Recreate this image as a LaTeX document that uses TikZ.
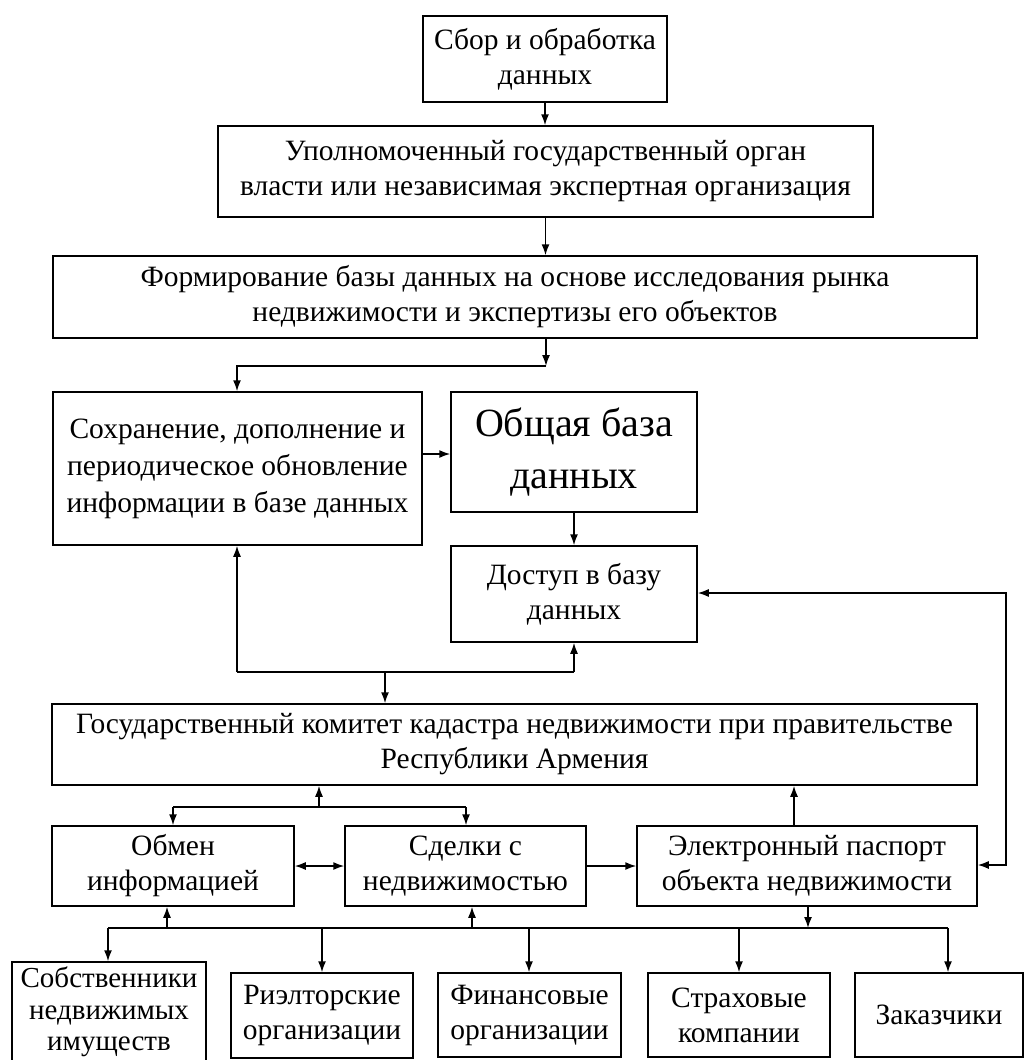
\documentclass[tikz,border=0pt]{standalone}
\usepackage{fontspec}
\setmainfont{Liberation Serif}
\usetikzlibrary{arrows.meta}
\begin{document}
\begin{tikzpicture}[x=1pt,y=-1pt,
  box/.style={draw, line width=1.5pt, align=center, inner sep=0pt, font=\fontsize{29.5}{35}\selectfont},
  ln/.style={line width=1.5pt},
  arr/.style={line width=1.5pt, -{Latex[length=11pt,width=8pt]}},
  arrtwo/.style={line width=1.5pt, {Latex[length=11pt,width=8pt]}-{Latex[length=11pt,width=8pt]}}]
\useasboundingbox (0,0) rectangle (1026,1060);
\clip (0,0) rectangle (1026,1060);
\fill[white] (0,0) rectangle (1026,1060);

\node[box, minimum width=244pt, minimum height=86pt] (b1) at (545,59) {Сбор и обработка\\данных};
\node[box, minimum width=655pt, minimum height=91pt] (b2) at (545.5,171.5) {Уполномоченный государственный орган\\власти или независимая экспертная организация};
\node[box, minimum width=924pt, minimum height=82pt] (b3) at (515,297) {Формирование базы данных на основе исследования рынка\\недвижимости и экспертизы его объектов};
\node[box, minimum width=369pt, minimum height=153pt, font=\fontsize{29.5}{37}\selectfont] (b4) at (237.5,468.5) {Сохранение, дополнение и\\периодическое обновление\\информации в базе данных};
\node[box, minimum width=246pt, minimum height=120pt, font=\fontsize{40}{52}\selectfont] (b5) at (574,452) {Общая база\\данных};
\node[box, minimum width=246pt, minimum height=96pt] (b6) at (574,594) {Доступ в базу\\данных};
\node[box, minimum width=925pt, minimum height=81pt] (b7) at (514.5,744.5) {Государственный комитет кадастра недвижимости при правительстве\\Республики Армения};
\node[box, minimum width=242pt, minimum height=80pt] (b8) at (173,866) {Обмен\\информацией};
\node[box, minimum width=241pt, minimum height=80pt] (b9) at (465.5,866) {Сделки с\\недвижимостью};
\node[box, minimum width=340pt, minimum height=80pt] (b10) at (807,866) {Электронный паспорт\\объекта недвижимости};
\node[box, minimum width=194pt, minimum height=100pt, font=\fontsize{29}{31.5}\selectfont] (s1) at (109,1012) {Собственники\\недвижимых\\имуществ};
\node[box, minimum width=182pt, minimum height=85pt] (s2) at (322,1015.5) {Риэлторские\\организации};
\node[box, minimum width=183pt, minimum height=84pt] (s3) at (529.5,1015) {Финансовые\\организации};
\node[box, minimum width=182pt, minimum height=84pt] (s4) at (739,1015) {Страховые\\компании};
\node[box, minimum width=168pt, minimum height=84pt] (s5) at (939,1015) {Заказчики};

% top chain
\draw[arr] (b1.south) -- (b2.north -| b1.south);
\draw[arr] (b2.south) -- (b3.north -| b2.south);
\coordinate (j1) at (546,366);
\coordinate (j2) at (237,366);
\draw[arr] (b3.south -| j1) -- (j1);
\draw[arr] (j1) -- (j2) -- (b4.north -| j2);
\coordinate (j3) at (0,454);
\draw[arr] (b4.east |- j3) -- (b5.west |- j3);
\draw[arr] (b5.south) -- (b6.north);

% loop below b4 / b6
\coordinate (l1) at (237,672);
\coordinate (l2) at (574,672);
\coordinate (l3) at (385,672);
\draw[arr] (l1) -- (b4.south -| l1);
\draw[ln] (l1) -- (l2);
\draw[arr] (l2) -- (b6.south);
\draw[arr] (l3) -- (b7.north -| l3);

% right loop
\coordinate (r1) at (1006,593);
\coordinate (r2) at (1006,865);
\draw[arrtwo] (b6.east |- r1) -- (r1) -- (r2) -- (b10.east |- r2);

% b10 up to b7
\coordinate (c1) at (794,0);
\draw[arr] (b10.north -| c1) -- (b7.south -| c1);

% upper bus
\coordinate (u0) at (319,807);
\coordinate (u1) at (173,807);
\coordinate (u2) at (466,807);
\draw[arr] (u0) -- (b7.south -| u0);
\draw[ln] (u1) -- (u2);
\draw[arr] (u1) -- (b8.north -| u1);
\draw[arr] (u2) -- (b9.north -| u2);
\draw[arrtwo] (b8.east) -- (b9.west);
\draw[arr] (b9.east) -- (b10.west);

% lower bus
\coordinate (d0) at (808,928);
\coordinate (dl) at (108,928);
\coordinate (dr) at (948,928);
\draw[arr] (b10.south -| d0) -- (d0);
\draw[ln] (dl) -- (dr);
\coordinate (e1) at (167,928);
\coordinate (e2) at (472,928);
\draw[arr] (e1) -- (b8.south -| e1);
\draw[arr] (e2) -- (b9.south -| e2);
\draw[arr] (dl) -- (s1.north -| dl);
\coordinate (f2) at (322,928);
\coordinate (f3) at (529,928);
\coordinate (f4) at (739,928);
\draw[arr] (f2) -- (s2.north -| f2);
\draw[arr] (f3) -- (s3.north -| f3);
\draw[arr] (f4) -- (s4.north -| f4);
\draw[arr] (dr) -- (s5.north -| dr);
\end{tikzpicture}
\end{document}
